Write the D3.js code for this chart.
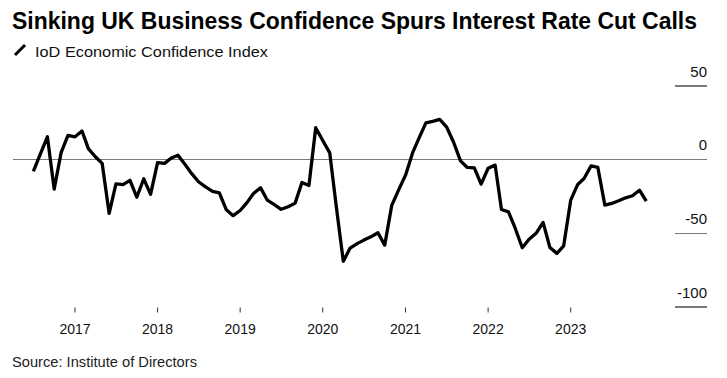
<!DOCTYPE html>
<html>
<head>
<meta charset="utf-8">
<script src="https://cdn.jsdelivr.net/npm/d3@7"></script>
<style>
    body { margin: 0; background: #fff; }
    svg { display: block; font-family: "Liberation Sans", Arial, sans-serif; }
</style>
</head>
<body>
<svg id="chart" width="727" height="378"></svg>
<script>
// IoD Economic Confidence Index, monthly from Jul 2016
const startYear = 2016, startMonth = 6; // July (0-based)
const v2016 = [-8, 4, 15.5, -20, 5, 16.5];
const v2017 = [15.5, 19.5, 7.5, 2, -2.5, -36.5, -16.5, -17, -14, -25.5, -13, -23.5];
const v2018 = [-2, -2.5, 1, 3, -3, -9.5, -15, -18.5, -21.5, -22.5, -34, -38];
const v2019 = [-34.5, -29, -23, -19, -27.5, -30.5, -33.7, -32, -29.5, -15.5, -17.5, 21.7];
const v2020 = [13, 4.6, -32, -69, -60, -57, -54.6, -52.4, -49.6, -58, -31, -20.7];
const v2021 = [-10.5, 4.6, 14.4, 25, 26, 27.3, 22.3, 12, -0.8, -5.3, -5.6, -16.6];
const v2022 = [-5.8, -3.7, -33.8, -35.4, -46.7, -59.8, -54, -50, -42.6, -59.6, -63.6, -58.5];
const v2023 = [-27.5, -16.8, -12.8, -4.2, -5.3, -30.9, -29.7, -27.9, -25.9, -24.5, -20.7, -28.2];

const yTicks = [50, 0, -50, -100];
const xTickYears = [2017, 2018, 2019, 2020, 2021, 2022, 2023];

const title = "Sinking UK Business Confidence Spurs Interest Rate Cut Calls";
const legendLabel = "IoD Economic Confidence Index";
const source = "Source: Institute of Directors";

const values = [].concat(v2016, v2017, v2018, v2019, v2020, v2021, v2022, v2023);
const data = values.map((v, i) => ({ date: new Date(startYear, startMonth + i, 1), value: v }));

const svg = d3.select("#chart");

// Scales
const x = d3.scaleTime()
    .domain([new Date(2017, 0, 1), new Date(2023, 0, 1)])
    .range([75, 570.7]);
const y = d3.scaleLinear().domain([-100, 50]).range([307, 86]);
const plotLeft = 13, plotRight = 707, gridLeft = 675;

// Title
svg.append("text")
    .attr("x", 12).attr("y", 29)
    .attr("font-size", 24).attr("font-weight", "bold").attr("fill", "#000")
    .attr("textLength", 685).attr("lengthAdjust", "spacingAndGlyphs")
    .text(title);

// Legend
svg.append("line")
    .attr("x1", 15).attr("y1", 55).attr("x2", 25).attr("y2", 45)
    .attr("stroke", "#000").attr("stroke-width", 3);
svg.append("text")
    .attr("x", 35).attr("y", 56.5)
    .attr("font-size", 15).attr("fill", "#111")
    .attr("textLength", 233).attr("lengthAdjust", "spacingAndGlyphs")
    .text(legendLabel);

// Y gridlines and labels (right side)
const yg = svg.append("g");
yg.selectAll("line")
    .data(yTicks)
    .join("line")
    .attr("x1", d => d === 0 ? plotLeft : gridLeft)
    .attr("x2", plotRight)
    .attr("y1", d => y(d)).attr("y2", d => y(d))
    .attr("stroke", "#7a7a7a").attr("stroke-width", 1.2)
    .attr("shape-rendering", "crispEdges");
yg.selectAll("text")
    .data(yTicks)
    .join("text")
    .attr("x", plotRight)
    .attr("y", d => y(d) - 9.5)
    .attr("text-anchor", "end")
    .attr("font-size", 15).attr("fill", "#111")
    .text(d => d);

// X axis ticks
const xg = svg.append("g");
const tickDates = xTickYears.map(yr => new Date(yr, 0, 1));
xg.selectAll("line")
    .data(tickDates)
    .join("line")
    .attr("x1", d => x(d)).attr("x2", d => x(d))
    .attr("y1", 307.5).attr("y2", 312.5)
    .attr("stroke", "#333").attr("stroke-width", 1);
xg.selectAll("text")
    .data(tickDates)
    .join("text")
    .attr("x", d => x(d)).attr("y", 334)
    .attr("text-anchor", "middle")
    .attr("font-size", 14).attr("fill", "#111")
    .text(d => d.getFullYear());

// Series line
const line = d3.line()
    .x(d => x(d.date))
    .y(d => y(d.value));
svg.append("path")
    .datum(data)
    .attr("d", line)
    .attr("fill", "none")
    .attr("stroke", "#000")
    .attr("stroke-width", 3.3)
    .attr("stroke-linejoin", "round");

// Source
svg.append("text")
    .attr("x", 12).attr("y", 367)
    .attr("font-size", 14).attr("fill", "#222")
    .attr("textLength", 185).attr("lengthAdjust", "spacingAndGlyphs")
    .text(source);
</script>
</body>
</html>
